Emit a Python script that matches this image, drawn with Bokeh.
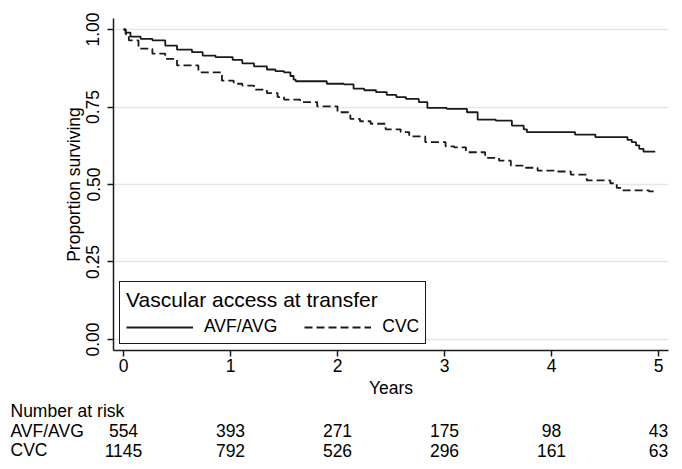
from bokeh.plotting import figure
from bokeh.models import Range1d, FixedTicker, NumeralTickFormatter, Legend, LegendItem
from bokeh.embed import file_html
from bokeh.resources import INLINE
from bokeh.core.properties import value

# ---------------- data ----------------
year_ticks = [0, 1, 2, 3, 4, 5]
surv_ticks = [0.0, 0.25, 0.5, 0.75, 1.0]
group_names = ["AVF/AVG", "CVC"]
legend_title = "Vascular access at transfer"

avf_t = [0.00, 0.02, 0.065, 0.16, 0.27, 0.39, 0.50, 0.64, 0.74, 0.86, 1.02, 1.11, 1.22, 1.34, 1.42,
         1.50, 1.56, 1.59, 1.61, 1.90, 2.06, 2.15, 2.25, 2.36, 2.46, 2.55, 2.64, 2.76, 2.84, 3.02,
         3.21, 3.31, 3.48, 3.63, 3.74, 3.77, 4.22, 4.41, 4.71, 4.75, 4.79, 4.82, 4.86, 4.97]
avf_s = [1.000, 0.990, 0.977, 0.970, 0.965, 0.948, 0.935, 0.927, 0.916, 0.911, 0.902, 0.891, 0.881, 0.871, 0.866,
         0.862, 0.850, 0.838, 0.833, 0.825, 0.823, 0.809, 0.804, 0.798, 0.789, 0.782, 0.776, 0.766, 0.747, 0.744,
         0.733, 0.709, 0.706, 0.690, 0.678, 0.669, 0.661, 0.653, 0.644, 0.637, 0.626, 0.615, 0.606, 0.606]

cvc_t = [0.00, 0.02, 0.05, 0.14, 0.27, 0.39, 0.50, 0.70, 0.92, 1.03, 1.11, 1.22, 1.34, 1.44, 1.50,
         1.65, 1.81, 2.00, 2.12, 2.21, 2.31, 2.45, 2.59, 2.67, 2.82, 3.01, 3.09, 3.20, 3.38, 3.51,
         3.62, 3.73, 3.87, 4.02, 4.18, 4.33, 4.55, 4.61, 4.66, 4.91, 4.96]
cvc_s = [1.000, 0.985, 0.965, 0.938, 0.922, 0.905, 0.884, 0.862, 0.835, 0.825, 0.819, 0.806, 0.795, 0.782, 0.774,
         0.766, 0.752, 0.733, 0.712, 0.704, 0.696, 0.678, 0.669, 0.655, 0.637, 0.623, 0.620, 0.604, 0.586, 0.577,
         0.561, 0.554, 0.545, 0.542, 0.532, 0.513, 0.504, 0.489, 0.481, 0.478, 0.475]

risk_title = "Number at risk"
risk_times = [0, 1, 2, 3, 4, 5]
risk_avf = [554, 393, 271, 175, 98, 43]
risk_cvc = [1145, 792, 526, 296, 161, 63]

# ---------------- layout / style ----------------
FONT = "Liberation Sans"
FS = "17.5px"
W, H = 674, 461
BL, BR, BT = 113, 6, 18
FRAME_H = 332
BB = H - BT - FRAME_H
PX = 107.0                      # pixels per year
X0 = -10 / PX
X1 = X0 + (W - BL - BR) / PX
Y0, Y1 = -0.0355, 1.0355
PY = FRAME_H / (Y1 - Y0)        # pixels per unit of survival
INK = "#1a1a1a"

p = figure(width=W, height=H, output_backend="svg", toolbar_location=None,
           x_range=Range1d(X0, X1), y_range=Range1d(Y0, Y1),
           min_border_left=BL, min_border_right=BR, min_border_top=BT, min_border_bottom=BB)
p.outline_line_color = None
p.xgrid.visible = False
p.ygrid.grid_line_color = "#e6e6e6"
p.ygrid.grid_line_width = 1.5

p.xaxis.ticker = FixedTicker(ticks=year_ticks)
p.yaxis.ticker = FixedTicker(ticks=surv_ticks)
p.yaxis.formatter = NumeralTickFormatter(format="0.00")
p.yaxis.major_label_orientation = "vertical"
p.xaxis.axis_label = "Years"
p.yaxis.axis_label = "Proportion surviving"
for ax in (p.xaxis, p.yaxis):
    ax.axis_line_color = INK
    ax.axis_line_width = 1.5
    ax.major_tick_line_color = INK
    ax.major_tick_line_width = 1.5
    ax.major_tick_out = 6
    ax.major_tick_in = 0
    ax.minor_tick_line_color = None
    ax.major_label_text_font = FONT
    ax.major_label_text_font_size = FS
    ax.major_label_text_color = "black"
    ax.axis_label_text_font = FONT
    ax.axis_label_text_font_size = FS
    ax.axis_label_text_font_style = "normal"
    ax.axis_label_text_color = "black"
p.xaxis.major_label_standoff = 2
p.xaxis.axis_label_standoff = 3
p.yaxis.major_label_standoff = 8
p.yaxis.axis_label_standoff = 0

r1 = p.step(avf_t, avf_s, mode="after", line_color=INK, line_width=1.8)
r2 = p.step(cvc_t, cvc_s, mode="after", line_color=INK, line_width=1.8, line_dash="8 4")

legend = Legend(items=[LegendItem(label=group_names[0], renderers=[r1]),
                       LegendItem(label=group_names[1], renderers=[r2])],
                title=legend_title, orientation="horizontal", location="bottom_left")
legend.margin = 6
legend.padding = 6
legend.spacing = 27
legend.label_standoff = 11
legend.glyph_width = 67
legend.glyph_height = 20
legend.label_height = 20
legend.title_standoff = 4
legend.border_line_color = INK
legend.border_line_alpha = 1
legend.border_line_width = 1.5
legend.background_fill_color = "white"
legend.background_fill_alpha = 1
legend.label_text_font = FONT
legend.label_text_font_size = FS
legend.label_text_color = "black"
legend.title_text_font = FONT
legend.title_text_font_size = "21px"
legend.title_text_font_style = "normal"
legend.title_text_color = "black"
p.add_layout(legend)

# ---------------- risk table (below the axis, not clipped) ----------------
def below_frame(px):
    return Y0 - px / PY

row_names = [risk_title, group_names[0], group_names[1]]
row_y = [below_frame(60), below_frame(80), below_frame(99.5)]
label_x = X0 - (BL - 10) / PX
txt = dict(text_baseline="middle", text_font=value(FONT), text_font_size=FS,
           text_color="black", level="overlay")
p.text(x=[label_x] * 3, y=row_y, text=row_names, text_align="left", **txt)
p.text(x=risk_times, y=[row_y[1]] * len(risk_times), text=[str(v) for v in risk_avf],
       text_align="center", **txt)
p.text(x=risk_times, y=[row_y[2]] * len(risk_times), text=[str(v) for v in risk_cvc],
       text_align="center", **txt)

open("out.html", "w").write(file_html(p, INLINE))
